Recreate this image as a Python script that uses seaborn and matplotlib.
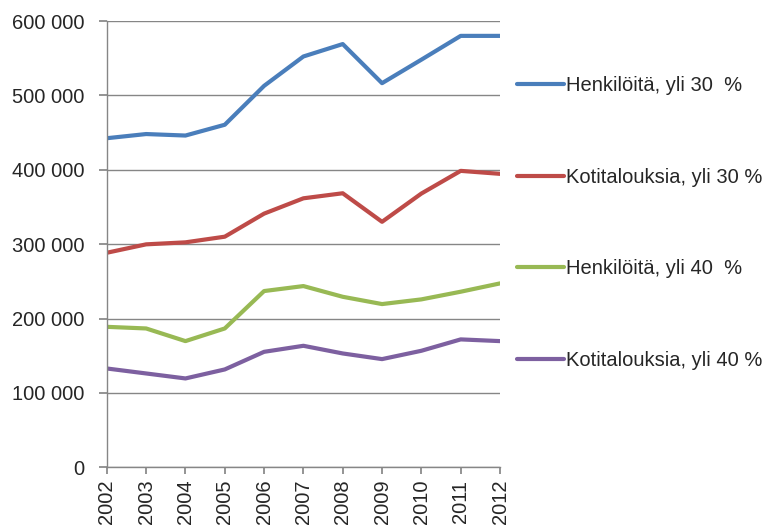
import numpy as np
import pandas as pd
import matplotlib
matplotlib.use("Agg")
import matplotlib.pyplot as plt
import matplotlib.ticker as mticker
import seaborn as sns

years = list(range(2002, 2013))
henk_30 = [442400, 448000, 446000, 460500, 512800, 552300, 569000, 516400, 548000, 580000, 580000]
koti_30 = [288400, 299700, 302400, 310000, 341000, 361600, 368400, 330000, 368000, 398500, 394500]
henk_40 = [188800, 186600, 169600, 186600, 236900, 243600, 229200, 219400, 225700, 236000, 247200]
koti_40 = [132800, 126100, 119400, 131500, 155200, 163300, 153000, 145400, 156600, 171900, 169600]

labels = ["Henkilöitä, yli 30  %", "Kotitalouksia, yli 30 %",
          "Henkilöitä, yli 40  %", "Kotitalouksia, yli 40 %"]
colors = ["#4a7ebb", "#be4b48", "#98b954", "#7d60a0"]

df = pd.DataFrame({
    "year": years * 4,
    "value": henk_30 + koti_30 + henk_40 + koti_40,
    "series": np.repeat(labels, len(years)),
})

sns.set_theme(style="white")
plt.rcParams["font.family"] = ["Liberation Sans", "DejaVu Sans"]
fs = 14.5

fig = plt.figure(figsize=(7.74, 5.25), dpi=100)
ax = fig.add_axes([0.138, 0.110, 0.508, 0.850])

sns.lineplot(data=df, x="year", y="value", hue="series", hue_order=labels,
             palette=colors, linewidth=3, ax=ax)

ax.set_xlim(2002, 2012)
ax.set_ylim(0, 600000)
ax.set_xticks(years)
ax.set_xticklabels([str(y) for y in years], rotation=90, fontsize=fs)
ax.set_yticks(np.arange(0, 600001, 100000))
ax.yaxis.set_major_formatter(mticker.FuncFormatter(lambda v, _: f"{v:,.0f}".replace(",", " ")))
ax.tick_params(axis="y", labelsize=fs, length=6, color="#868686", direction="out", left=True, pad=10)
ax.tick_params(axis="x", length=5, color="#868686", direction="out", bottom=True, pad=4)
ax.set_xlabel("")
ax.set_ylabel("")
ax.grid(axis="y", color="#868686", linewidth=1)
ax.set_axisbelow(True)
for side in ["top", "right"]:
    ax.spines[side].set_visible(False)
for side in ["left", "bottom"]:
    ax.spines[side].set_color("#868686")
    ax.spines[side].set_linewidth(1)

ax.get_legend().remove()
handles, leg_labels = ax.get_legend_handles_labels()
fig.legend(handles, leg_labels, loc="upper left", bbox_to_anchor=(0.668, 0.855),
           frameon=False, fontsize=fs, handlelength=2.33, handletextpad=0.1,
           labelspacing=3.6, borderpad=0, borderaxespad=0)

fig.savefig("out.png", dpi=100)
